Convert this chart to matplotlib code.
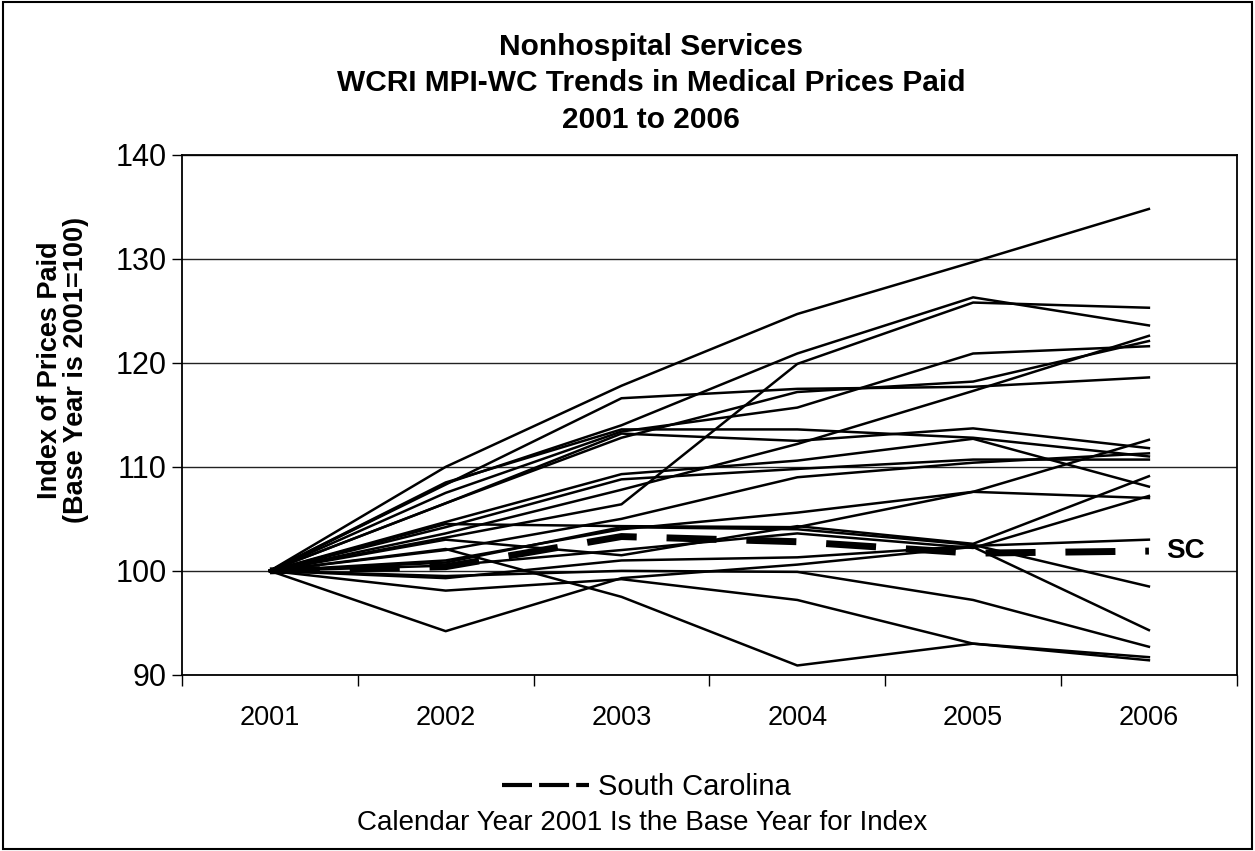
import matplotlib
matplotlib.use("Agg")
import matplotlib.pyplot as plt
from matplotlib.lines import Line2D

plt.rcParams['font.family'] = ['Liberation Sans', 'DejaVu Sans']

years = ['2001', '2002', '2003', '2004', '2005', '2006']

# index of prices paid by state, 2001 = 100
states = [
    [100, 110.0, 117.8, 124.7, 129.7, 134.8],
    [100, 108.4, 114.0, 120.9, 126.3, 123.6],
    [100, 103.2, 106.4, 119.9, 125.8, 125.3],
    [100, 108.3, 116.6, 117.5, 117.7, 118.6],
    [100, 107.5, 113.4, 115.7, 120.9, 121.6],
    [100, 106.5, 112.8, 117.2, 118.2, 122.1],
    [100, 108.5, 113.6, 113.6, 112.8, 111.0],
    [100, 106.5, 113.2, 112.5, 113.7, 111.8],
    [100, 103.6, 107.8, 112.2, 117.3, 122.6],
    [100, 104.7, 109.3, 110.6, 112.7, 108.1],
    [100, 104.2, 108.8, 109.8, 110.7, 110.7],
    [100, 102.0, 105.0, 109.0, 110.4, 111.3],
    [100, 101.0, 104.0, 105.6, 107.6, 112.6],
    [100, 104.5, 104.3, 104.2, 107.6, 107.0],
    [100, 103.0, 101.5, 104.3, 102.6, 109.1],
    [100, 100.5, 102.0, 103.6, 102.2, 107.2],
    [100, 99.3, 101.0, 101.3, 102.4, 103.0],
    [100, 100.8, 104.2, 104.0, 102.5, 98.5],
    [100, 94.2, 99.3, 100.6, 102.3, 94.3],
    [100, 99.5, 100.0, 99.9, 97.2, 92.7],
    [100, 98.1, 99.2, 97.2, 93.0, 91.4],
    [100, 102.1, 97.5, 90.9, 93.0, 91.7],
]
south_carolina = [100, 100.4, 103.3, 102.8, 101.7, 101.9]

fig = plt.figure(figsize=(12.55, 8.51), dpi=100)
ax = fig.add_axes([0.145, 0.207, 0.8405, 0.611])

x = range(len(years))
for s in states:
    ax.plot(x, s, color='black', lw=1.8, solid_joinstyle='round', zorder=3)
ax.plot(x, south_carolina, color='black', lw=5, dashes=(7.2, 4.3), zorder=4)

ax.set_xlim(-0.5, 5.5)
ax.set_ylim(90, 140)
ax.set_yticks(range(90, 141, 10))
ax.set_xticks(list(x))
ax.set_xticklabels(years)
ax.set_xticks([i + 0.5 for i in range(-1, 6)], minor=True)
ax.tick_params(axis='x', which='major', length=0, labelsize=19.5, pad=22)
ax.tick_params(axis='x', which='minor', length=8, direction='out', width=1)
ax.tick_params(axis='y', length=7, direction='out', width=1, labelsize=22, pad=4)
ax.yaxis.grid(True, color='#222222', lw=1)
ax.set_axisbelow(True)
for sp in ax.spines.values():
    sp.set_linewidth(1.3)

ax.text(5.1, 101.9, 'SC', fontsize=20, fontweight='bold', va='center', ha='left')

fig.text(0.05, 0.565, 'Index of Prices Paid\n(Base Year is 2001=100)', rotation=90,
         ha='center', va='center', fontsize=19.5, fontweight='bold', linespacing=1.0)

fig.text(0.519, 0.945, 'Nonhospital Services', ha='center', va='center',
         fontsize=21.5, fontweight='bold')
fig.text(0.519, 0.902, 'WCRI MPI-WC Trends in Medical Prices Paid', ha='center',
         va='center', fontsize=21.5, fontweight='bold')
fig.text(0.519, 0.859, '2001 to 2006', ha='center', va='center',
         fontsize=21.5, fontweight='bold')

handle = Line2D([], [], color='black', lw=3, dashes=(7.2, 1.7))
fig.legend([handle], ['South Carolina'], loc='center', bbox_to_anchor=(0.515, 0.075),
           frameon=False, fontsize=21, handlelength=3.0, handletextpad=0.3)
fig.text(0.512, 0.033, 'Calendar Year 2001 Is the Base Year for Index', ha='center',
         va='center', fontsize=20)

fig.patches.append(plt.Rectangle((0.002, 0.002), 0.996, 0.996, transform=fig.transFigure,
                                 fill=False, edgecolor='black', lw=1.5))

fig.savefig('out.png', dpi=100)
